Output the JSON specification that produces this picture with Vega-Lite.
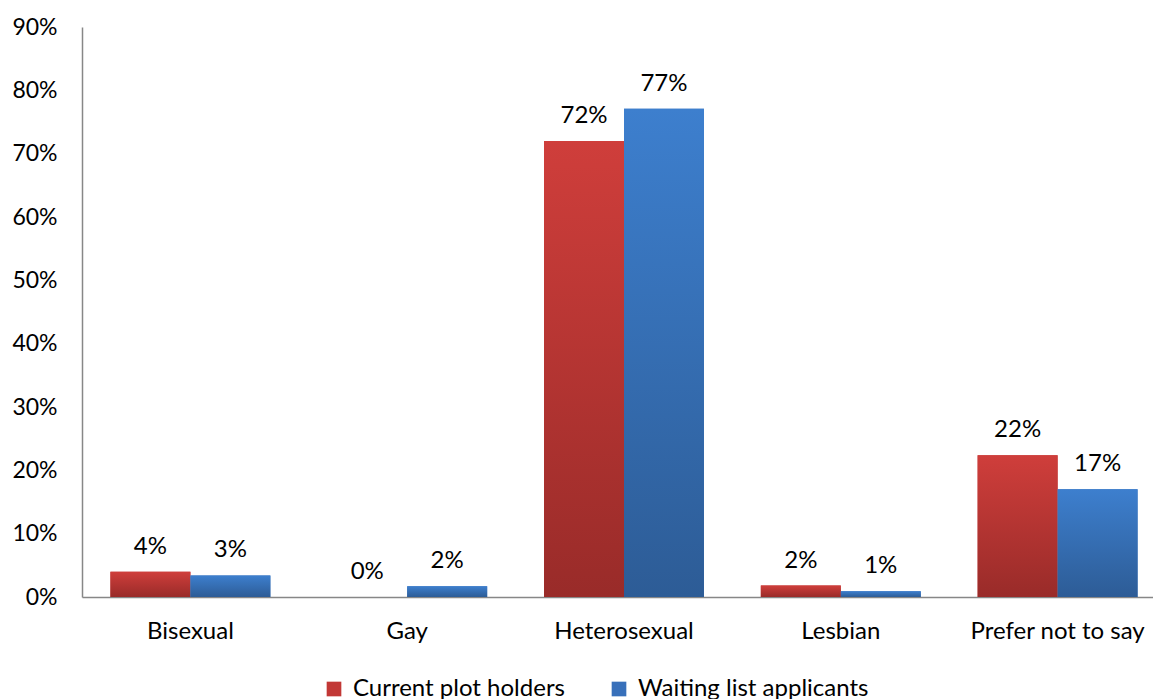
{
  "$schema": "https://vega.github.io/schema/vega-lite/v6.json",
  "width": 1084,
  "height": 570,
  "autosize": {"type": "none"},
  "padding": {"left": 82, "top": 27, "right": -13, "bottom": 102},
  "background": "white",
  "config": {
    "font": "Lato",
    "view": {"stroke": null},
    "axis": {
      "labelFont": "Lato",
      "labelFontSize": 24,
      "labelColor": "#000000",
      "domainColor": "#878787",
      "domainWidth": 1.5,
      "ticks": false,
      "tickSize": 0,
      "grid": false,
      "title": null
    }
  },
  "data": {
    "values": [
      {"category": "Bisexual", "group": "Current plot holders", "value": 0.040},
      {"category": "Bisexual", "group": "Waiting list applicants", "value": 0.034},
      {"category": "Gay", "group": "Current plot holders", "value": 0.0},
      {"category": "Gay", "group": "Waiting list applicants", "value": 0.017},
      {"category": "Heterosexual", "group": "Current plot holders", "value": 0.720},
      {"category": "Heterosexual", "group": "Waiting list applicants", "value": 0.771},
      {"category": "Lesbian", "group": "Current plot holders", "value": 0.018},
      {"category": "Lesbian", "group": "Waiting list applicants", "value": 0.009},
      {"category": "Prefer not to say", "group": "Current plot holders", "value": 0.224},
      {"category": "Prefer not to say", "group": "Waiting list applicants", "value": 0.170}
    ]
  },
  "encoding": {
    "x": {
      "field": "category",
      "type": "nominal",
      "sort": ["Bisexual", "Gay", "Heterosexual", "Lesbian", "Prefer not to say"],
      "scale": {"paddingInner": 0, "paddingOuter": 0},
      "axis": {"labelAngle": 0, "labelPadding": 22, "labelBaseline": "top"}
    },
    "xOffset": {
      "field": "group",
      "type": "nominal",
      "sort": ["Current plot holders", "Waiting list applicants"],
      "scale": {"paddingInner": 0, "paddingOuter": 0.3556}
    },
    "y": {
      "field": "value",
      "type": "quantitative",
      "scale": {"domain": [0, 0.9], "nice": false},
      "axis": {
        "values": [0, 0.1, 0.2, 0.3, 0.4, 0.5, 0.6, 0.7, 0.8, 0.9],
        "format": ".0%",
        "labelFontSize": 23,
        "labelPadding": 25
      }
    }
  },
  "layer": [
    {
      "mark": {"type": "bar"},
      "encoding": {
        "color": {
          "field": "group",
          "type": "nominal",
          "scale": {
            "domain": ["Current plot holders", "Waiting list applicants"],
            "range": ["#C23836", "#3870BA"]
          },
          "legend": {
            "orient": "none",
            "direction": "horizontal",
            "legendX": 240,
            "legendY": 650,
            "title": null,
            "symbolType": "square",
            "symbolSize": 215,
            "symbolStrokeWidth": 0,
            "labelFont": "Lato",
            "labelFontSize": 24,
            "labelColor": "#000000",
            "labelLimit": 0,
            "labelOffset": 7,
            "columnPadding": 42,
            "padding": 0
          }
        }
      }
    },
    {
      "mark": {"type": "bar"},
      "encoding": {
        "fill": {
          "condition": {
            "test": "datum.group === 'Current plot holders'",
            "value": {
              "gradient": "linear",
              "x1": 0, "y1": 0, "x2": 0, "y2": 1,
              "stops": [
                {"offset": 0, "color": "#CF3E3B"},
                {"offset": 1, "color": "#992B29"}
              ]
            }
          },
          "value": {
            "gradient": "linear",
            "x1": 0, "y1": 0, "x2": 0, "y2": 1,
            "stops": [
              {"offset": 0, "color": "#3D7FCE"},
              {"offset": 1, "color": "#2D5C96"}
            ]
          }
        }
      }
    },
    {
      "mark": {
        "type": "text",
        "baseline": "bottom",
        "dy": -13,
        "font": "Lato",
        "fontSize": 24,
        "color": "#000000"
      },
      "encoding": {
        "text": {"field": "value", "type": "quantitative", "format": ".0%"}
      }
    }
  ]
}
